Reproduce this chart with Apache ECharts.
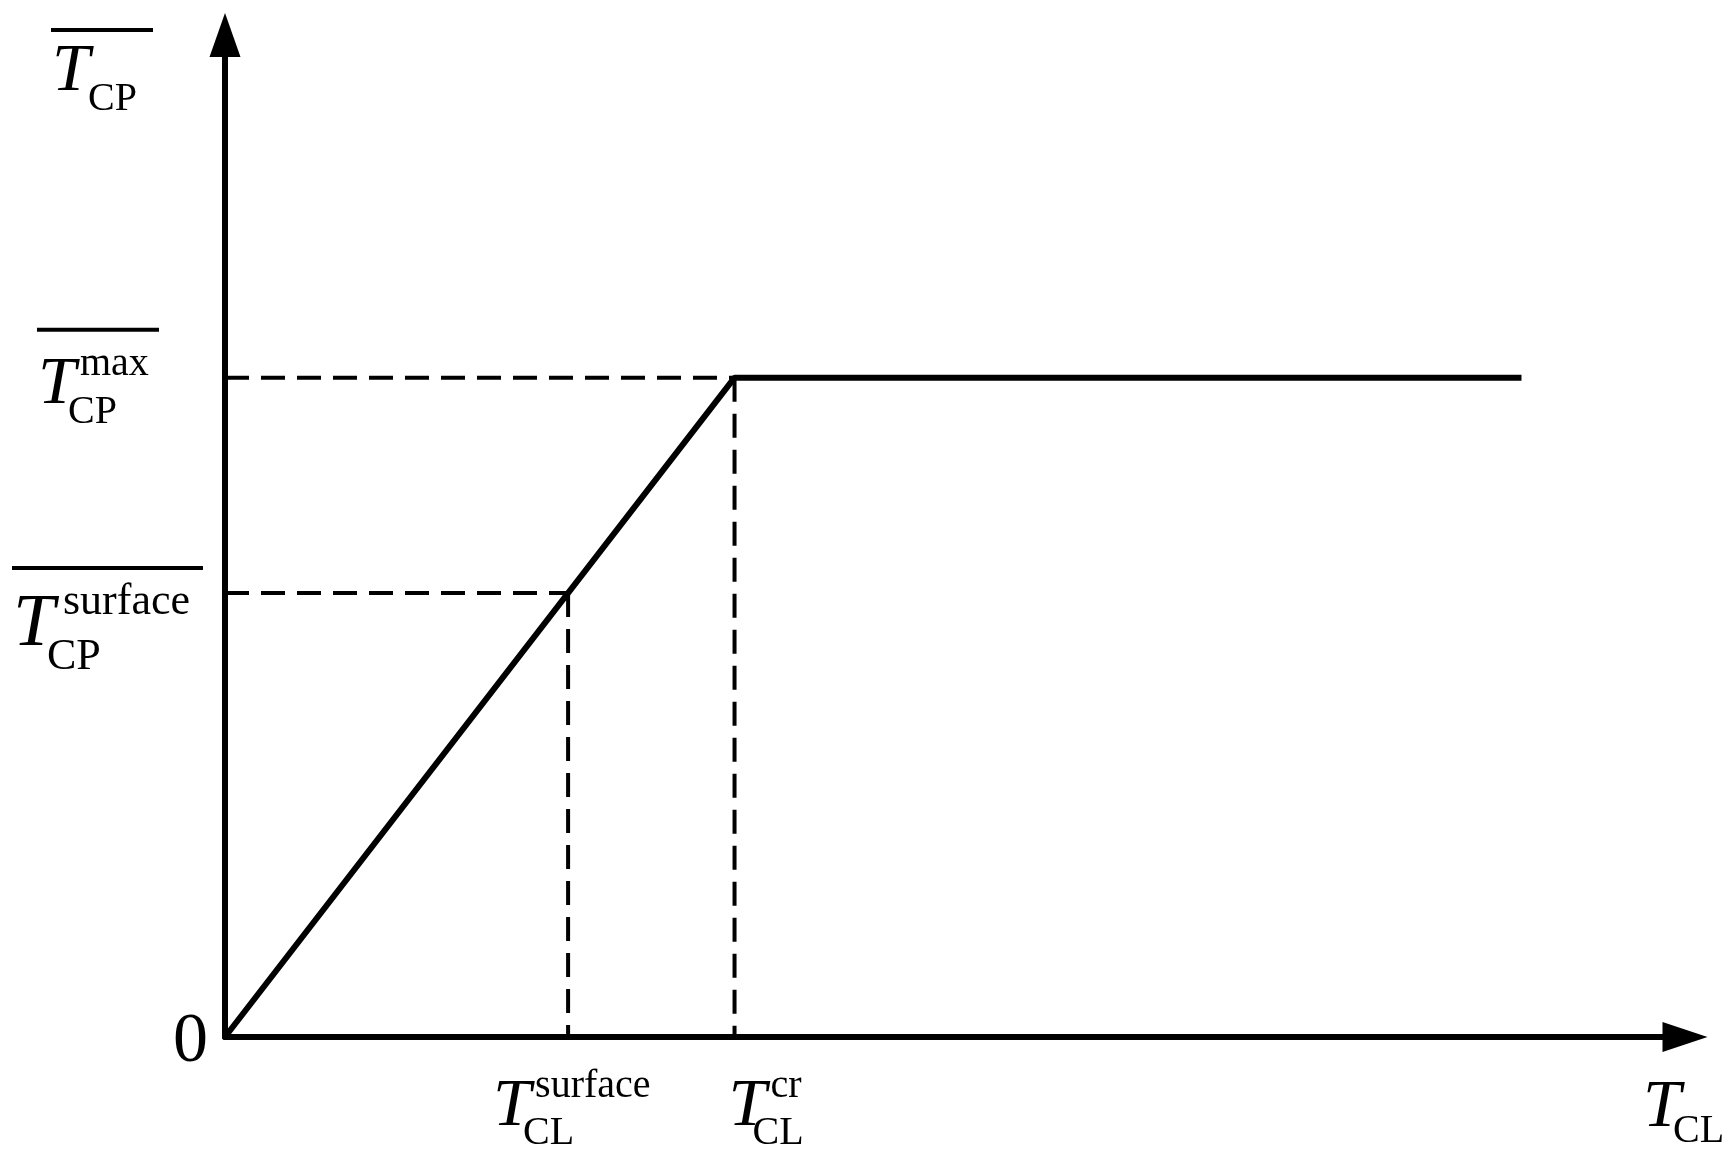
<!DOCTYPE html>
<html>
<head>
<meta charset="utf-8">
<script src="https://cdn.jsdelivr.net/npm/echarts@6/dist/echarts.min.js"></script>
<style>
html, body { margin: 0; padding: 0; background: #fff; }
#chart { width: 1734px; height: 1164px; }
</style>
</head>
<body>
<div id="chart"></div>
<script>
// axis ranges (arbitrary units, schematic chart)
var xMax = 100;
var yMax = 100;
// curve: linear rise up to the critical point, then flat
var curveX = [0, 34.9, 88.8];
var curveY = [0, 65.8, 65.8];
// dashed guide points: surface point, critical point
var guideX = [23.5, 34.9];
var guideY = [44.3, 65.8];
// superscripts / subscripts of the labels
var yLabelSup = ['', 'max', 'surface'];
var xLabelSup = ['surface', 'cr', ''];

var FONT = '"Liberation Serif", "Times New Roman", serif';
var chart = echarts.init(document.getElementById('chart'));

var series = [{
    type: 'line',
    data: curveX.map(function (x, i) { return [x, curveY[i]]; }),
    symbol: 'none',
    lineStyle: { color: '#000', width: 6 },
    z: 3,
    silent: true
}];
// dashed guides: horizontal from the y axis, vertical down to the x axis
guideX.forEach(function (x, i) {
    series.push({
        type: 'line',
        data: [[0, guideY[i]], [x, guideY[i]]],
        symbol: 'none',
        lineStyle: { color: '#000', width: 4, type: [24, 12] },
        z: 1,
        silent: true
    });
    series.push({
        type: 'line',
        data: [[x, guideY[i]], [x, 0]],
        symbol: 'none',
        lineStyle: { color: '#000', width: 4, type: [24, 12] },
        z: 1,
        silent: true
    });
});

var axisCommon = {
    type: 'value',
    min: 0,
    axisTick: { show: false },
    axisLabel: { show: false },
    splitLine: { show: false }
};

var option = {
    animation: false,
    backgroundColor: '#fff',
    grid: { left: 225, right: 49, top: 35, bottom: 127 },
    xAxis: Object.assign({}, axisCommon, {
        max: xMax,
        axisLine: {
            show: true,
            symbol: ['none', 'triangle'],
            symbolSize: [30, 45],
            lineStyle: { color: '#000', width: 6 }
        }
    }),
    yAxis: Object.assign({}, axisCommon, {
        max: yMax,
        axisLine: {
            show: true,
            symbol: ['none', 'triangle'],
            symbolSize: [31, 44],
            lineStyle: { color: '#000', width: 6 }
        }
    }),
    series: series
};
chart.setOption(option);

// text helper: (x, baseline) in pixels
function txt(s, x, baseline, font, size) {
    return {
        type: 'text',
        z: 10,
        style: {
            text: s, x: x, y: baseline - 0.3375 * size,
            font: font, fill: '#000',
            textAlign: 'left', textVerticalAlign: 'middle'
        }
    };
}
// italic T with optional super/subscript and overline
function mathLabel(p, lab) {
    var s = lab.scale || 1;
    var bx = p[0] + lab.dx, by = p[1] + lab.dy;
    var big = Math.round(68 * s), small = Math.round(40 * s);
    var els = [txt('T', bx, by, 'italic ' + big + 'px ' + FONT, big)];
    if (lab.sup) els.push(txt(lab.sup, bx + (lab.supDx || 42), by + (lab.supDy || -30), small + 'px ' + FONT, small));
    els.push(txt(lab.sub, bx + (lab.subDx || 30), by + (lab.subDy || 17), small + 'px ' + FONT, small));
    if (lab.bar) {
        els.push({
            type: 'rect', z: 10,
            shape: { x: bx - 1, y: by + lab.bar[1] - 2, width: lab.bar[0], height: 4 },
            style: { fill: '#000' }
        });
    }
    return els;
}

var labels = [
    { at: [0, yMax], dx: -173, dy: 60, sub: 'CP', subDx: 36, subDy: 18, bar: [102, -65] },
    { at: [0, guideY[1]], dx: -187, dy: 30, sup: yLabelSup[1], sub: 'CP', subDy: 18, bar: [122, -78] },
    { at: [0, guideY[0]], dx: -212, dy: 57, scale: 1.1, sup: yLabelSup[2], supDx: 50, supDy: -33,
      sub: 'CP', subDx: 34, subDy: 22, bar: [191, -82] },
    { at: [guideX[0], 0], dx: -75, dy: 93, sup: xLabelSup[0], sub: 'CL' },
    { at: [guideX[1], 0], dx: -6, dy: 93, sup: xLabelSup[1], sub: 'CL', subDx: 24 },
    { at: [xMax, 0], dx: -42, dy: 94, sub: 'CL', subDy: 14 }
];

var graphics = [];
labels.forEach(function (lab) {
    var p = chart.convertToPixel({ gridIndex: 0 }, lab.at);
    graphics = graphics.concat(mathLabel(p, lab));
});
var o = chart.convertToPixel({ gridIndex: 0 }, [0, 0]);
graphics.push(txt('0', o[0] - 52, o[1] + 29, '70px ' + FONT, 70));

chart.setOption({ graphic: graphics });
</script>
</body>
</html>
